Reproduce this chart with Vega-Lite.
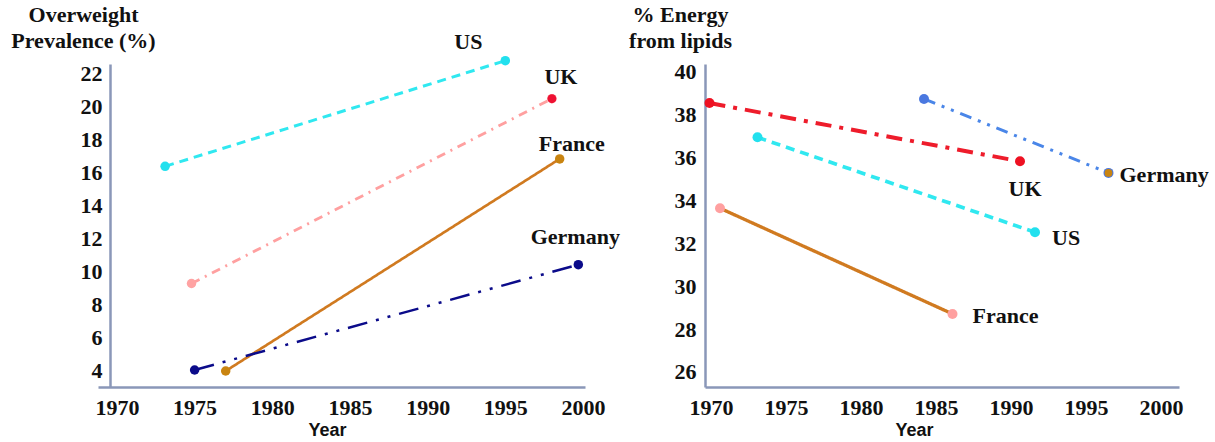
{
  "$schema": "https://vega.github.io/schema/vega-lite/v6.json",
  "background": "white",
  "padding": {"left": 10, "top": 3, "right": 0, "bottom": 0},
  "spacing": 8,
  "resolve": {"scale": {"stroke": "independent", "fill": "independent", "strokeDash": "independent", "strokeWidth": "independent", "size": "independent"}},
  "config": {
    "view": {"stroke": null},
    "axis": {"domainColor": "#8a97b8", "domainWidth": 2.5, "ticks": false, "grid": false, "labelFont": "Liberation Serif", "labelFontWeight": "bold", "labelFontSize": 22, "labelColor": "#111111", "titleColor": "#111111"},
    "text": {"font": "Liberation Serif", "fontWeight": "bold", "fontSize": 22, "color": "#111111", "baseline": "middle"}
  },
  "datasets": {
    "overweight": [
      {"country": "US", "year": 1973.1, "value": 16.4},
      {"country": "US", "year": 1995.0, "value": 22.8},
      {"country": "UK", "year": 1974.8, "value": 9.3},
      {"country": "UK", "year": 1998.0, "value": 20.5},
      {"country": "France", "year": 1977.0, "value": 4.0},
      {"country": "France", "year": 1998.5, "value": 16.85},
      {"country": "Germany", "year": 1975.0, "value": 4.06},
      {"country": "Germany", "year": 1999.7, "value": 10.44}
    ],
    "lipids": [
      {"country": "UK", "year": 1969.9, "value": 38.55},
      {"country": "UK", "year": 1990.6, "value": 35.83},
      {"country": "US", "year": 1973.1, "value": 36.95},
      {"country": "US", "year": 1991.6, "value": 32.52},
      {"country": "France", "year": 1970.6, "value": 33.64},
      {"country": "France", "year": 1986.1, "value": 28.71},
      {"country": "Germany", "year": 1984.2, "value": 38.74},
      {"country": "Germany", "year": 1996.5, "value": 35.29}
    ]
  },
  "hconcat": [
    {
      "width": 487,
      "height": 323,
      "data": {"name": "overweight"},
      "encoding": {
        "x": {"field": "year", "type": "quantitative", "scale": {"domain": [1968.78, 2000.13], "nice": false, "zero": false},
          "axis": {"values": [1970, 1975, 1980, 1985, 1990, 1995, 2000], "format": "d", "labelPadding": 10, "title": "Year", "titleFont": "Liberation Sans", "titleFontSize": 18, "titleFontWeight": "bold", "titleX": 229, "titleY": 43, "titleAlign": "center", "titleBaseline": "middle"}},
        "y": {"field": "value", "type": "quantitative", "scale": {"domain": [3.03, 22.6], "nice": false, "zero": false},
          "axis": {"values": [4, 6, 8, 10, 12, 14, 16, 18, 20, 22], "offset": -12, "labelPadding": 8, "title": ["Overweight", "Prevalence (%)"], "titleAngle": 0, "titleAlign": "center", "titleBaseline": "top", "titleX": -27, "titleY": -60, "titleFont": "Liberation Serif", "titleFontSize": 22, "titleFontWeight": "bold", "titleLineHeight": 26}}
      },
      "layer": [
        {
          "mark": {"type": "line"},
          "encoding": {
            "detail": {"field": "country"},
            "stroke": {"field": "country", "type": "nominal", "scale": {"domain": ["US", "UK", "France", "Germany"], "range": ["#30e8f0", "#ffa0a0", "#d07a20", "#0b0b8a"]}, "legend": null},
            "strokeDash": {"field": "country", "type": "nominal", "scale": {"domain": ["US", "UK", "France", "Germany"], "range": [[9, 6], [9, 6, 2, 6], [1, 0], [20, 9, 3, 9, 3, 9]]}, "legend": null},
            "strokeWidth": {"field": "country", "type": "nominal", "scale": {"domain": ["US", "UK", "France", "Germany"], "range": [3, 2.5, 2, 4]}, "legend": null}
          }
        },
        {
          "mark": {"type": "point", "filled": true, "opacity": 1},
          "encoding": {
            "fill": {"field": "country", "type": "nominal", "scale": {"domain": ["US", "UK", "France", "Germany"], "range": ["#22e0ee", "#ffa3a3", "#c98410", "#0b0b8a"]}, "legend": null},
            "size": {"field": "country", "type": "nominal", "scale": {"domain": ["US", "UK", "France", "Germany"], "range": [90, 90, 60, 110]}, "legend": null}
          }
        },
        {
          "transform": [{"filter": "datum.country == 'UK' && datum.year > 1990"}],
          "mark": {"type": "point", "filled": true, "opacity": 1, "fill": "#ee1133", "size": 80}
        },
        {
          "transform": [{"filter": "datum.country == 'US' && datum.year > 1990"}],
          "mark": {"type": "text", "dx": -37, "dy": -19, "align": "center"},
          "encoding": {"text": {"field": "country"}}
        },
        {
          "transform": [{"filter": "datum.country == 'UK' && datum.year > 1990"}],
          "mark": {"type": "text", "dx": 9, "dy": -22, "align": "center"},
          "encoding": {"text": {"field": "country"}}
        },
        {
          "transform": [{"filter": "datum.country == 'France' && datum.year > 1990"}],
          "mark": {"type": "text", "dx": 12, "dy": -15, "align": "center"},
          "encoding": {"text": {"field": "country"}}
        },
        {
          "transform": [{"filter": "datum.country == 'Germany' && datum.year > 1990"}],
          "mark": {"type": "text", "dx": -3, "dy": -28, "align": "center"},
          "encoding": {"text": {"field": "country"}}
        }
      ]
    },
    {
      "width": 474,
      "height": 323,
      "data": {"name": "lipids"},
      "encoding": {
        "x": {"field": "year", "type": "quantitative", "scale": {"domain": [1969.6, 2001.2], "nice": false, "zero": false},
          "axis": {"values": [1970, 1975, 1980, 1985, 1990, 1995, 2000], "format": "d", "labelPadding": 10, "title": "Year", "titleFont": "Liberation Sans", "titleFontSize": 18, "titleFontWeight": "bold", "titleX": 209, "titleY": 43, "titleAlign": "center", "titleBaseline": "middle"}},
        "y": {"field": "value", "type": "quantitative", "scale": {"domain": [25.3, 40.37], "nice": false, "zero": false},
          "axis": {"values": [26, 28, 30, 32, 34, 36, 38, 40], "labelPadding": 9, "title": ["% Energy", "from lipids"], "titleAngle": 0, "titleAlign": "center", "titleBaseline": "top", "titleX": -25, "titleY": -60, "titleFont": "Liberation Serif", "titleFontSize": 22, "titleFontWeight": "bold", "titleLineHeight": 26}}
      },
      "layer": [
        {
          "mark": {"type": "line"},
          "encoding": {
            "detail": {"field": "country"},
            "stroke": {"field": "country", "type": "nominal", "scale": {"domain": ["UK", "US", "France", "Germany"], "range": ["#ee1c2b", "#30e8f0", "#d07a20", "#4a86e8"]}, "legend": null},
            "strokeDash": {"field": "country", "type": "nominal", "scale": {"domain": ["UK", "US", "France", "Germany"], "range": [[16, 8, 4, 8], [9, 6], [1, 0], [12, 7, 3, 7, 3, 7]]}, "legend": null},
            "strokeWidth": {"field": "country", "type": "nominal", "scale": {"domain": ["UK", "US", "France", "Germany"], "range": [4, 3, 2, 2]}, "legend": null}
          }
        },
        {
          "mark": {"type": "point", "filled": true, "opacity": 1},
          "encoding": {
            "fill": {"field": "country", "type": "nominal", "scale": {"domain": ["UK", "US", "France", "Germany"], "range": ["#ee1122", "#22e0ee", "#ffa0a0", "#4a78e0"]}, "legend": null},
            "size": {"field": "country", "type": "nominal", "scale": {"domain": ["UK", "US", "France", "Germany"], "range": [100, 100, 80, 70]}, "legend": null}
          }
        },
        {
          "transform": [{"filter": "datum.country == 'Germany' && datum.year > 1990"}],
          "mark": {"type": "point", "filled": true, "opacity": 1, "fill": "#c98410", "size": 60}
        },
        {
          "transform": [{"filter": "datum.country == 'UK' && datum.year > 1985"}],
          "mark": {"type": "text", "dx": 5, "dy": 28, "align": "center"},
          "encoding": {"text": {"field": "country"}}
        },
        {
          "transform": [{"filter": "datum.country == 'US' && datum.year > 1985"}],
          "mark": {"type": "text", "dx": 17, "dy": 6, "align": "left"},
          "encoding": {"text": {"field": "country"}}
        },
        {
          "transform": [{"filter": "datum.country == 'France' && datum.year > 1980"}],
          "mark": {"type": "text", "dx": 20, "dy": 2, "align": "left"},
          "encoding": {"text": {"field": "country"}}
        },
        {
          "transform": [{"filter": "datum.country == 'Germany' && datum.year > 1990"}],
          "mark": {"type": "text", "dx": 11, "dy": 2, "align": "left"},
          "encoding": {"text": {"field": "country"}}
        }
      ]
    }
  ]
}
